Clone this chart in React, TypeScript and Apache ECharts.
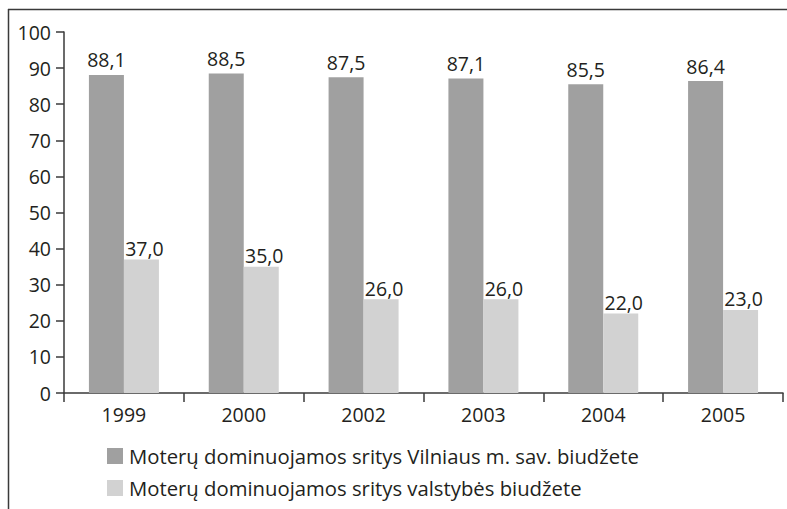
import React, { useEffect, useRef } from "react";
import * as echarts from "echarts";

const categories = ["1999", "2000", "2002", "2003", "2004", "2005"];
const seriesNames = [
  "Moterų dominuojamos sritys Vilniaus m. sav. biudžete",
  "Moterų dominuojamos sritys valstybės biudžete",
];
const vilniusValues = [88.1, 88.5, 87.5, 87.1, 85.5, 86.4];
const stateValues = [37.0, 35.0, 26.0, 26.0, 22.0, 23.0];

const FONT = "'Open Sans', 'Noto Sans', sans-serif";
const TEXT = "#231f20";
const AXIS = "#3a3a3a";
const FS = 19.5;

export default function App() {
  const ref = useRef<HTMLDivElement>(null);
  useEffect(() => {
    if (!ref.current) return;
    const chart = echarts.init(ref.current, undefined, { renderer: "svg" });
    const fmt = (p: any) => Number(p.value).toFixed(1).replace(".", ",");
    const legendBase = {
      orient: "vertical",
      left: 102,
      itemWidth: 16,
      itemHeight: 16,
      padding: [5, 5, 5, 5],
      icon: "rect",
      textStyle: { fontFamily: FONT, fontSize: 20.3, lineHeight: 18, color: TEXT, padding: [0, 0, 0, 1] },
    };
    chart.setOption({
      animation: false,
      backgroundColor: "#ffffff",
      textStyle: { fontFamily: FONT },
      grid: { left: 64, top: 32, right: 4, bottom: 116, containLabel: false },
      legend: [
        { ...legendBase, top: 441, data: [seriesNames[0]] },
        { ...legendBase, top: 473, data: [seriesNames[1]] },
      ],
      xAxis: {
        type: "category",
        data: categories,
        axisLine: { show: true, lineStyle: { color: AXIS, width: 1.5 } },
        axisTick: { show: true, length: 9, lineStyle: { color: AXIS, width: 1.5 } },
        axisLabel: { fontFamily: FONT, fontSize: FS, color: TEXT, margin: 11 },
      },
      yAxis: {
        type: "value",
        min: 0,
        max: 100,
        interval: 10,
        splitLine: { show: false },
        axisLine: { show: true, lineStyle: { color: AXIS, width: 1.5 } },
        axisTick: { show: true, length: 8, lineStyle: { color: AXIS, width: 1.5 } },
        axisLabel: { fontFamily: FONT, fontSize: FS, color: TEXT, margin: 13 },
      },
      series: [
        {
          name: seriesNames[0],
          type: "bar",
          data: vilniusValues,
          barWidth: 35,
          barGap: "0%",
          itemStyle: { color: "#a0a0a0" },
          label: { show: true, position: "top", distance: 5, formatter: fmt, fontFamily: FONT, fontSize: FS, color: TEXT },
        },
        {
          name: seriesNames[1],
          type: "bar",
          data: stateValues,
          barWidth: 35,
          barGap: "0%",
          itemStyle: { color: "#d2d2d2" },
          label: { show: true, position: "top", distance: 1, offset: [3, 0], formatter: fmt, fontFamily: FONT, fontSize: FS, color: TEXT },
        },
      ],
      graphic: [
        { type: "line", shape: { x1: 8, y1: 9.5, x2: 787, y2: 9.5 }, style: { stroke: AXIS, lineWidth: 1.5 } },
        { type: "line", shape: { x1: 8.5, y1: 9, x2: 8.5, y2: 509 }, style: { stroke: AXIS, lineWidth: 1.5 } },
      ],
    });
    return () => chart.dispose();
  }, []);
  return <div ref={ref} style={{ position: "fixed", left: 0, top: 0, width: 787, height: 509 }} />;
}
